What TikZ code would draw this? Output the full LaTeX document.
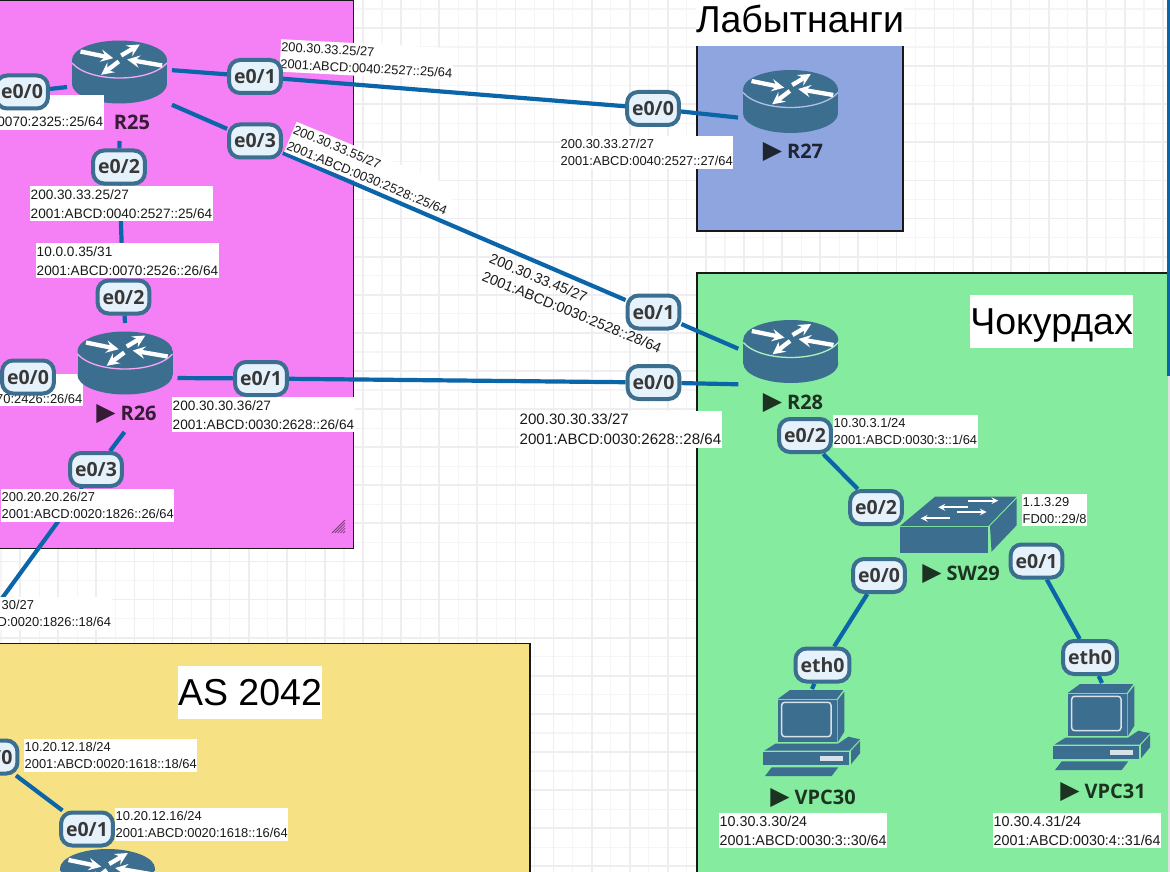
\documentclass[tikz,border=0pt]{standalone}
\usepackage{fontspec}
\usepackage{tikz}
\usepackage{xcolor}
\setmainfont{Liberation Sans}
\newfontfamily\portfont{Open Sans}
\newfontfamily\symfont{DejaVu Sans}
\usetikzlibrary{shapes.geometric, arrows, backgrounds}
\definecolor{pinkbox}{HTML}{F57FF5}
\definecolor{bluebox}{HTML}{8FA5E0}
\definecolor{greenbox}{HTML}{85EB9E}
\definecolor{yellowbox}{HTML}{F6E285}
\definecolor{icon}{HTML}{3C6E8F}
\definecolor{wire}{HTML}{0B65A9}
\definecolor{portfill}{HTML}{E6F2FB}
\definecolor{gridmajor}{HTML}{EEEEF2}
\definecolor{gridminor}{HTML}{F5F5F8}
\newcommand{\playmark}{{\symfont\fontsize{25}{25}\selectfont ▶}}
\tikzstyle{zone} = [draw=black!90, line width=1.6pt]
\tikzstyle{link} = [draw=wire, line width=4.2pt]
\tikzstyle{device} = [rectangle, minimum width=105pt, minimum height=80pt, inner sep=0pt, outer sep=0pt]
\tikzstyle{pcdevice} = [rectangle, minimum width=100pt, minimum height=92pt, inner sep=0pt, outer sep=0pt]
\tikzstyle{port} = [rectangle, rounded corners=11pt, minimum width=51pt, minimum height=33pt, inner xsep=5pt, inner ysep=0pt, outer sep=2pt, text height=14pt, text depth=0pt, draw=icon, line width=4pt, fill=portfill, text=black!78, font=\portfont\bfseries\fontsize{19.5}{23}\selectfont]
\tikzstyle{devname} = [inner sep=0pt, text height=14pt, text depth=0pt, text=black, text opacity=0.78, font=\portfont\bfseries\fontsize{20}{24}\selectfont]
\tikzstyle{title} = [fill=white, text=black, inner xsep=0pt, inner ysep=0pt, minimum height=53pt, text height=33pt, text depth=7pt, font=\fontsize{37.5}{45}\selectfont]
\tikzstyle{iplabel} = [rectangle, fill=white, text=black!90, align=left, anchor=north west, inner xsep=0.5pt, inner ysep=3pt]
\tikzstyle{ipsmall} = [iplabel, font=\fontsize{12.9}{17}\selectfont]
\tikzstyle{ipmid} = [iplabel, font=\fontsize{13.6}{19}\selectfont]
\tikzstyle{ipbig} = [iplabel, font=\fontsize{14.3}{18.6}\selectfont]
\tikzstyle{iphuge} = [iplabel, font=\fontsize{15.1}{20}\selectfont]
\tikzstyle{iconarrow} = [white, line width=4.3pt, ->, >=stealth]
\tikzstyle{switcharrow} = [white, line width=2pt, ->, >=stealth]
\tikzset{
  routerpic/.pic={
    \fill[icon] (0,-12) ellipse [x radius=47.5, y radius=19.5];
    \fill[icon] (-47.5,-12) rectangle (47.5,12);
    \fill[icon] (0,12) ellipse [x radius=47.5, y radius=19.5];
    \draw[#1, line width=1.3pt] (-47.5,-9) .. controls (-30,11) and (30,11) .. (47.5,-9);
    \draw[iconarrow] (-39,-20.5) -- (-6.3,-13.8);
    \draw[iconarrow] (1.7,-16.5) -- (20.3,-27.5);
    \draw[iconarrow] (42.7,-6.5) -- (7.7,-12.5);
    \draw[iconarrow] (-0.7,-10.5) -- (-18.3,2.8);
  },
  switchpic/.pic={
    \fill[icon] (-58.5,1.5) -- (-23.5,-27.8) -- (58.2,-27.8) -- (29.8,1.5) -- cycle;
    \fill[icon] (-58.5,2.5) rectangle (29.8,28.2);
    \fill[icon] (31.5,1.5) -- (58.2,-26) -- (58.2,0.7) -- (33,27.2) -- cycle;
    \draw[switcharrow] (9.8,-17.2) -- (-20.2,-17.2);
    \draw[switcharrow] (9.8,-23.8) -- (39.8,-23.8);
    \draw[switcharrow] (-8.5,-6.2) -- (-37.8,-6.2);
    \draw[switcharrow] (-1.8,-12.5) -- (28.2,-12.5);
  },
  pcpic/.pic={
    \fill[icon] (-34.3,-36) -- (-22,-45) -- (31.3,-45) -- (24.7,-36) -- cycle;
    \fill[icon] (-34.3,-35) rectangle (24.7,7.3);
    \fill[icon] (25.7,-35) -- (32.3,-43.3) -- (32.3,-3.3) -- (25.7,7.3) -- cycle;
    \draw[white!80!icon, line width=1.5pt, rounded corners=3pt] (-30.3,-32.7) rectangle (19,1.7);
    \fill[icon] (-47.7,15.7) -- (-36.3,8.5) -- (26.3,8.5) -- (36.3,1.7) -- (48,4.3) -- (37.3,15.7) -- cycle;
    \fill[icon] (-48.7,16.7) rectangle (37.3,30);
    \fill[icon] (39,16) -- (48,6) -- (48,18.3) -- (39,29.3) -- cycle;
    \fill[white!80!icon] (8,21.3) rectangle (31.3,26);
    \fill[icon] (-40.3,32.3) -- (26.3,32.3) -- (19.7,41) -- (-47,41) -- cycle;
  }
}

\begin{document}
\begin{tikzpicture}[x=1pt, y=-1pt]
\useasboundingbox (0,0) rectangle (1170,872);

\node(R16) [device] at (107.5,880.5) {};
\node(R25) [device] at (119.5,72) {};
\node(R26) [device] at (125,363) {};
\node(R27) [device] at (790.5,101.5) {};
\node(R28) [device] at (790.8,351.5) {};
\node(SW29) [device] at (958.5,524.5) {};
\node(VPC30) [pcdevice] at (812,735) {};
\node(VPC31) [pcdevice] at (1102,729) {};

\coordinate(r25_down) at (119.5,141);
\coordinate(r26_down) at (124.5,432);
\coordinate(r18_up) at (-8,612);
\coordinate(edge_top) at (1169.5,-2);
\coordinate(edge_bottom) at (1169.5,376);

\node(r26_e01_ip) [ipmid] at (172,397) {200.30.30.36/27\\2001:ABCD:0030:2628::26/64};
\node(r26_e00_ip) [ipsmall, anchor=north east, align=right] at (83,374) {\phantom{0}\\70:2426::26/64};
\node(r26_e03_ip) [ipsmall] at (1,489) {200.20.20.26/27\\2001:ABCD:0020:1826::26/64};
\node(r25_e02_ip) [ipmid] at (30,186) {200.30.33.25/27\\2001:ABCD:0040:2527::25/64};
\node(r26_e02_ip) [ipmid] at (36,243) {10.0.0.35/31\\2001:ABCD:0070:2526::26/64};
\node(r18_ip) [ipsmall] at (-3,597) {\hspace*{4pt}30/27\\D:0020:1826::18/64};
\node(r25_e01_ip) [ipsmall, rotate=-3] at (281,39) {200.30.33.25/27\\2001:ABCD:0040:2527::25/64};
\node(r25_e03_ip) [ipsmall, rotate=-22.5] at (296.5,121.5) {200.30.33.55/27\\2001:ABCD:0030:2528::25/64};
\node(r28_e01_ip) [iplabel, fill=none, rotate=-22.4, font=\fontsize{14.4}{18.8}\selectfont] at (492.9,250) {200.30.33.45/27\\2001:ABCD:0030:2528::28/64};
\node(r28_e00_ip) [iphuge] at (519,410.5) {200.30.30.33/27\\2001:ABCD:0030:2628::28/64};
\node(r27_e00_ip) [ipsmall] at (560,136) {200.30.33.27/27\\2001:ABCD:0040:2527::27/64};
\node(r28_e02_ip) [ipsmall] at (833,415) {10.30.3.1/24\\2001:ABCD:0030:3::1/64};
\node(sw29_ip) [ipsmall] at (1022,494) {1.1.3.29\\FD00::29/8};
\node(vpc30_ip) [ipbig] at (719,813) {10.30.3.30/24\\2001:ABCD:0030:3::30/64};
\node(vpc31_ip) [ipbig] at (993,813) {10.30.4.31/24\\2001:ABCD:0030:4::31/64};
\node(r18_e00_ip) [ipsmall] at (24,739) {10.20.12.18/24\\2001:ABCD:0020:1618::18/64};
\node(r16_e01_ip) [ipsmall] at (115,808) {10.20.12.16/24\\2001:ABCD:0020:1618::16/64};

\pic at (R16) {routerpic=yellowbox!70!white};
\pic at (R25) {routerpic=pinkbox!70!white};
\pic at (R26) {routerpic=pinkbox!70!white};
\pic at (R27) {routerpic=bluebox!70!white};
\pic at (R28) {routerpic=greenbox!70!white};
\pic at (SW29) {switchpic};
\pic at (VPC30) {pcpic};
\pic at (VPC31) {pcpic};

\node(r25_e00_ip) [ipmid, anchor=north east, align=right] at (104,95) {\phantom{0}\\0070:2325::25/64};

\node(R25_name) [devname] at (132,123) {R25};
\node(R26_name) [devname] at (126.5,413) {\playmark\hspace{5pt}R26};
\node(R27_name) [devname] at (793,151) {\playmark\hspace{5pt}R27};
\node(R28_name) [devname] at (793,402) {\playmark\hspace{5pt}R28};
\node(SW29_name) [devname] at (961,573) {\playmark\hspace{5pt}SW29};
\node(VPC30_name) [devname] at (813,797) {\playmark\hspace{5pt}VPC30};
\node(VPC31_name) [devname] at (1103,791) {\playmark\hspace{5pt}VPC31};

\node(r25_e00) [port] at (22,92) {e0/0};
\node(r25_e01) [port] at (255,76.5) {e0/1};
\node(r25_e02) [port] at (119,167) {e0/2};
\node(r25_e03) [port] at (255,141) {e0/3};
\node(r26_e00) [port] at (28,377) {e0/0};
\node(r26_e01) [port] at (261,378.5) {e0/1};
\node(r26_e02) [port] at (123.5,297) {e0/2};
\node(r26_e03) [port] at (96,469.5) {e0/3};
\node(r27_e00) [port] at (653,108.5) {e0/0};
\node(r28_e00) [port] at (653.5,382.5) {e0/0};
\node(r28_e01) [port] at (653.5,312) {e0/1};
\node(r28_e02) [port] at (805,435.5) {e0/2};
\node(sw29_e00) [port] at (879,575.5) {e0/0};
\node(sw29_e01) [port] at (1036.5,561) {e0/1};
\node(sw29_e02) [port] at (876,507.5) {e0/2};
\node(vpc30_eth0) [port] at (822.5,665) {eth0};
\node(vpc31_eth0) [port] at (1090,657.5) {eth0};
\node(r18_e00) [port] at (-8.5,757) {e0/0};
\node(r16_e01) [port] at (87,829) {e0/1};

\node(title_r27) [title] at (800,19.5) {Лабытнанги};
\node(title_r28) [title] at (1051.5,321.5) {Чокурдах};
\node(title_as) [title] at (250,692) {AS 2042};

\begin{scope}[on background layer]
\foreach \i in {0,...,60} {
  \draw[gridminor, line width=1.2pt] ({1.05+19.05*\i},0) -- ({1.05+19.05*\i},872);
  \draw[gridminor, line width=1.2pt] (0,{9+19.05*\i}) -- (1170,{9+19.05*\i});
}
\foreach \i in {0,...,30} {
  \draw[gridmajor, line width=1.8pt] ({20.1+38.1*\i},0) -- ({20.1+38.1*\i},872);
  \draw[gridmajor, line width=1.8pt] (0,{28+38.1*\i}) -- (1170,{28+38.1*\i});
}
\draw[zone, fill=pinkbox] (-10,0.3) rectangle (353.5,548.5);
\draw[zone, fill=bluebox] (697,38) rectangle (902.7,230.7);
\draw[zone, fill=greenbox] (697,273) rectangle (1190,890);
\draw[zone, fill=yellowbox] (-10,643.5) rectangle (530,890);
\fill[white] (1168,272) rectangle (1172,880);
\fill[black!12] (1168,376) rectangle (1172,880);
\foreach \i in {0,...,4} {
  \draw[black!50!pinkbox, line width=0.8pt] ({332+2.8*\i},533) -- (345,{520+2.8*\i});
}
\draw[link] (edge_top) -- (edge_bottom);
\draw[link] (R25.2) -- (r25_e01) -- (r27_e00) -- (R27.197);
\draw[link] (R25.-32) -- (r25_e03) -- (r28_e01) -- (R28.177);
\draw[link] (r25_e00) -- (R25.196);
\draw[link] (r25_down) -- (r25_e02) -- (r26_e02) -- (R26.north);
\draw[link] (R26.-16) -- (r26_e01) -- (r28_e00) -- (R28.212);
\draw[link] (r26_down) -- (r26_e03) -- (r18_up);
\draw[link] (r28_e02) -- (sw29_e02);
\draw[link] (sw29_e00) -- (vpc30_eth0) -- (VPC30.north);
\draw[link] (sw29_e01) -- (vpc31_eth0) -- (VPC31.north);
\draw[link] (r18_e00) -- (r16_e01);
\end{scope}
\end{tikzpicture}
\end{document}
